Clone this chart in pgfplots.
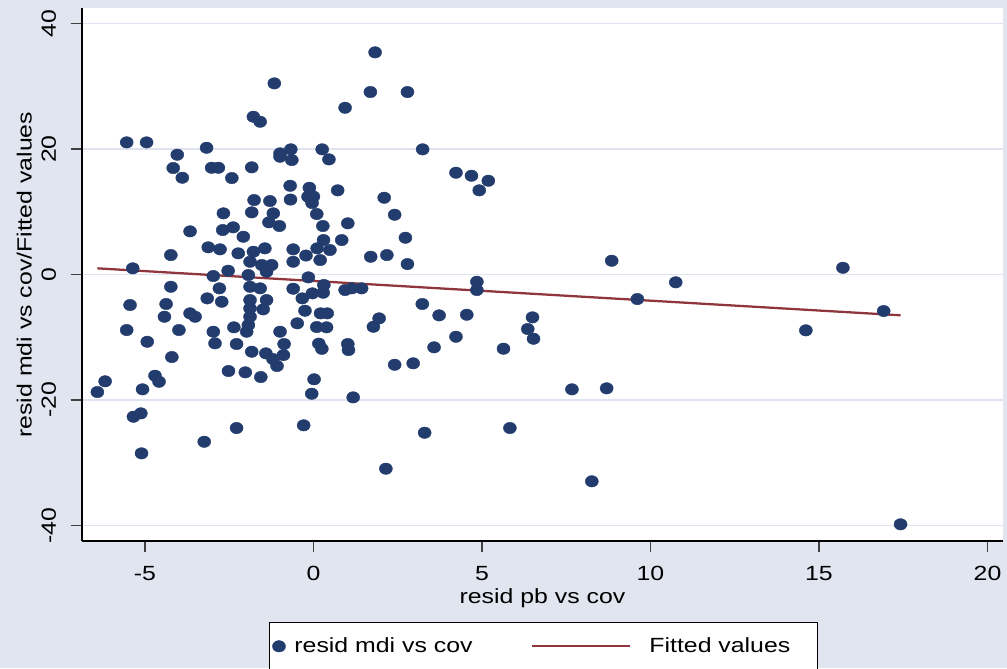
\documentclass[border=0pt]{standalone}
\usepackage{fontspec}
\setmainfont{Liberation Sans}[FakeStretch=1.21]
\usepackage{pgfplots}
\pgfplotsset{compat=1.18}
\usepackage{pgfplotstable}
\definecolor{bgc}{RGB}{225,229,240}
\definecolor{gridc}{RGB}{222,227,239}
\definecolor{navyc}{RGB}{35,60,110}
\definecolor{maroonc}{RGB}{144,53,59}
\newcommand\fs{\fontsize{15.4pt}{18pt}\selectfont}
\pgfplotsset{
  dotlegend/.style={legend image code/.code={\draw[##1] plot coordinates {(0pt,0pt)}; \path (-5pt,0pt) (9.2pt,0pt);}},
  linelegend/.style={legend image code/.code={\draw[##1] (0pt,0pt) -- (73.7pt,0pt); \path (85.5pt,0pt);}},
}
\pgfplotstableread{
x y
-5.54 21.08
-4.95 21.08
-4.04 19.11
-3.17 20.22
-4.16 16.99
-3.89 15.44
-3.02 17.03
-2.82 17.03
-2.42 15.39
-1.83 17.10
-1.78 25.17
-1.58 24.37
-1.16 30.49
-0.99 19.33
-0.67 19.97
-0.99 18.79
-0.64 18.26
0.26 19.97
0.46 18.37
-0.69 14.16
-0.12 13.84
-1.76 11.88
-1.29 11.72
-0.68 11.96
-0.16 12.41
0.00 12.44
-0.04 11.40
0.72 13.43
1.83 35.44
1.69 29.11
2.79 29.11
0.94 26.60
3.24 19.97
4.23 16.24
4.69 15.76
5.19 14.96
4.92 13.43
2.10 12.25
-2.67 9.76
-1.83 9.92
-1.19 9.76
0.10 9.65
-1.32 8.33
-1.01 7.74
-3.66 6.89
-2.69 7.10
-2.38 7.53
-2.08 6.03
0.28 7.74
-3.12 4.34
-2.77 4.02
-4.23 3.11
-2.23 3.38
-1.78 3.64
-1.44 4.18
-0.60 4.02
-0.60 2.04
-0.22 3.03
0.11 4.18
0.30 5.50
0.20 2.31
-1.88 2.04
-1.53 1.52
-1.24 1.52
-5.36 0.99
-2.53 0.61
-2.97 -0.24
-1.93 -0.08
-1.39 0.45
-0.15 -0.45
-4.23 -1.95
-2.79 -2.20
-1.88 -1.95
-1.58 -2.20
-0.60 -2.26
-0.33 -3.80
-0.03 -3.00
0.31 -1.67
0.29 -2.90
-5.44 -4.86
-4.37 -4.70
-3.15 -3.80
-2.72 -4.34
-1.88 -4.07
-1.39 -4.07
-1.88 -5.39
-1.49 -5.55
-4.42 -6.73
-3.66 -6.19
-3.51 -6.73
-1.88 -6.73
-0.25 -5.77
0.21 -6.19
0.41 -6.19
-5.54 -8.85
-3.99 -8.85
-2.97 -9.12
-2.36 -8.42
-1.98 -9.12
-1.93 -8.05
-0.48 -7.78
0.10 -8.37
0.39 -8.42
-4.93 -10.72
-2.92 -10.97
-2.28 -11.08
-1.83 -12.31
-0.99 -9.12
-0.87 -11.08
-1.41 -12.57
-0.89 -12.84
-1.08 -14.59
-1.20 -13.48
0.16 -11.02
0.25 -11.85
-4.20 -13.16
-2.52 -15.39
-2.02 -15.60
-1.56 -16.35
-6.41 -18.74
-6.18 -17.03
-5.07 -18.31
-4.70 -16.14
-4.58 -17.10
-5.34 -22.68
-5.12 -22.14
-5.10 -28.52
-3.24 -26.67
-2.28 -24.48
-0.29 -24.05
0.02 -16.71
-0.05 -19.01
2.41 9.54
1.02 8.17
2.73 5.87
0.84 5.50
0.49 3.91
1.70 2.84
2.18 3.11
2.79 1.67
0.94 -2.47
1.14 -2.20
1.43 -2.20
4.85 -1.15
4.85 -2.47
3.23 -4.70
3.73 -6.51
4.55 -6.41
6.50 -6.83
6.36 -8.69
6.53 -10.24
1.95 -6.99
1.78 -8.33
4.23 -9.92
3.58 -11.61
5.64 -11.83
1.02 -11.08
1.04 -12.04
2.41 -14.39
2.96 -14.16
1.18 -19.59
3.30 -25.23
2.15 -30.97
5.83 -24.48
8.85 2.20
10.75 -1.24
9.61 -3.91
15.71 1.08
16.92 -5.82
14.61 -8.90
7.67 -18.31
8.70 -18.15
8.26 -32.98
17.42 -39.84
}\scatterdata
\pgfplotstableread{
x y
-6.41 0.99
17.42 -6.50
}\fitdata
\begin{document}
\begin{tikzpicture}[font=\fs]
\path[fill=bgc, use as bounding box] (0,0) rectangle (755.25pt,501pt);
\begin{axis}[
  at={(61.5pt,95.25pt)}, anchor=south west,
  scale only axis, width=690.75pt, height=399.5pt,
  xmin=-6.866, xmax=20.46, ymin=-42.5, ymax=42.46,
  axis background/.style={fill=white},
  axis x line*=bottom, axis y line*=left,
  axis line style={-, line width=1.1pt, black},
  tick align=outside, major tick length=8.6pt,
  tick style={line width=1.1pt, black!75},
  xtick={-5,0,5,10,15,20}, ytick={-40,-20,0,20,40},
  minor tick num=0,
  ymajorgrids,
  grid style={line width=1.1pt, gridc},
  /pgf/number format/assume math mode=true,
  tick label style={font=\fs},
  xticklabel style={anchor=base},
  xticklabel shift=21pt,
  yticklabel style={rotate=90, anchor=base},
  yticklabel shift=11pt,
  xlabel={resid pb vs cov},
  ylabel={resid mdi vs cov/Fitted values},
  every axis x label/.style={at={(axis description cs:0.5,0)}, anchor=base, yshift=-46.9pt, font=\fs},
  every axis y label/.style={at={(axis description cs:-0.0546,0.5)}, rotate=90, anchor=base, font=\fs},
  legend columns=2,
  legend cell align=left,
  legend style={at={(axis description cs:0.2034,-0.1526)}, anchor=north west, draw=black, line width=0.75pt, fill=white, inner xsep=1.5pt, inner ysep=9.3pt, font=\fs, /tikz/every even column/.append style={column sep=41.5pt}},
]
\addplot[only marks, mark=*, mark size=4.3pt, color=navyc,
  mark options={xscale=1.14, fill=navyc, draw=navyc, line width=0.3pt},
  dotlegend]
  table {\scatterdata};
\addlegendentry{resid mdi vs cov}
\addplot[maroonc, line width=1.7pt, no marks, linelegend]
  table {\fitdata};
\addlegendentry{Fitted values\hspace*{17pt}}
\end{axis}
\end{tikzpicture}
\end{document}
